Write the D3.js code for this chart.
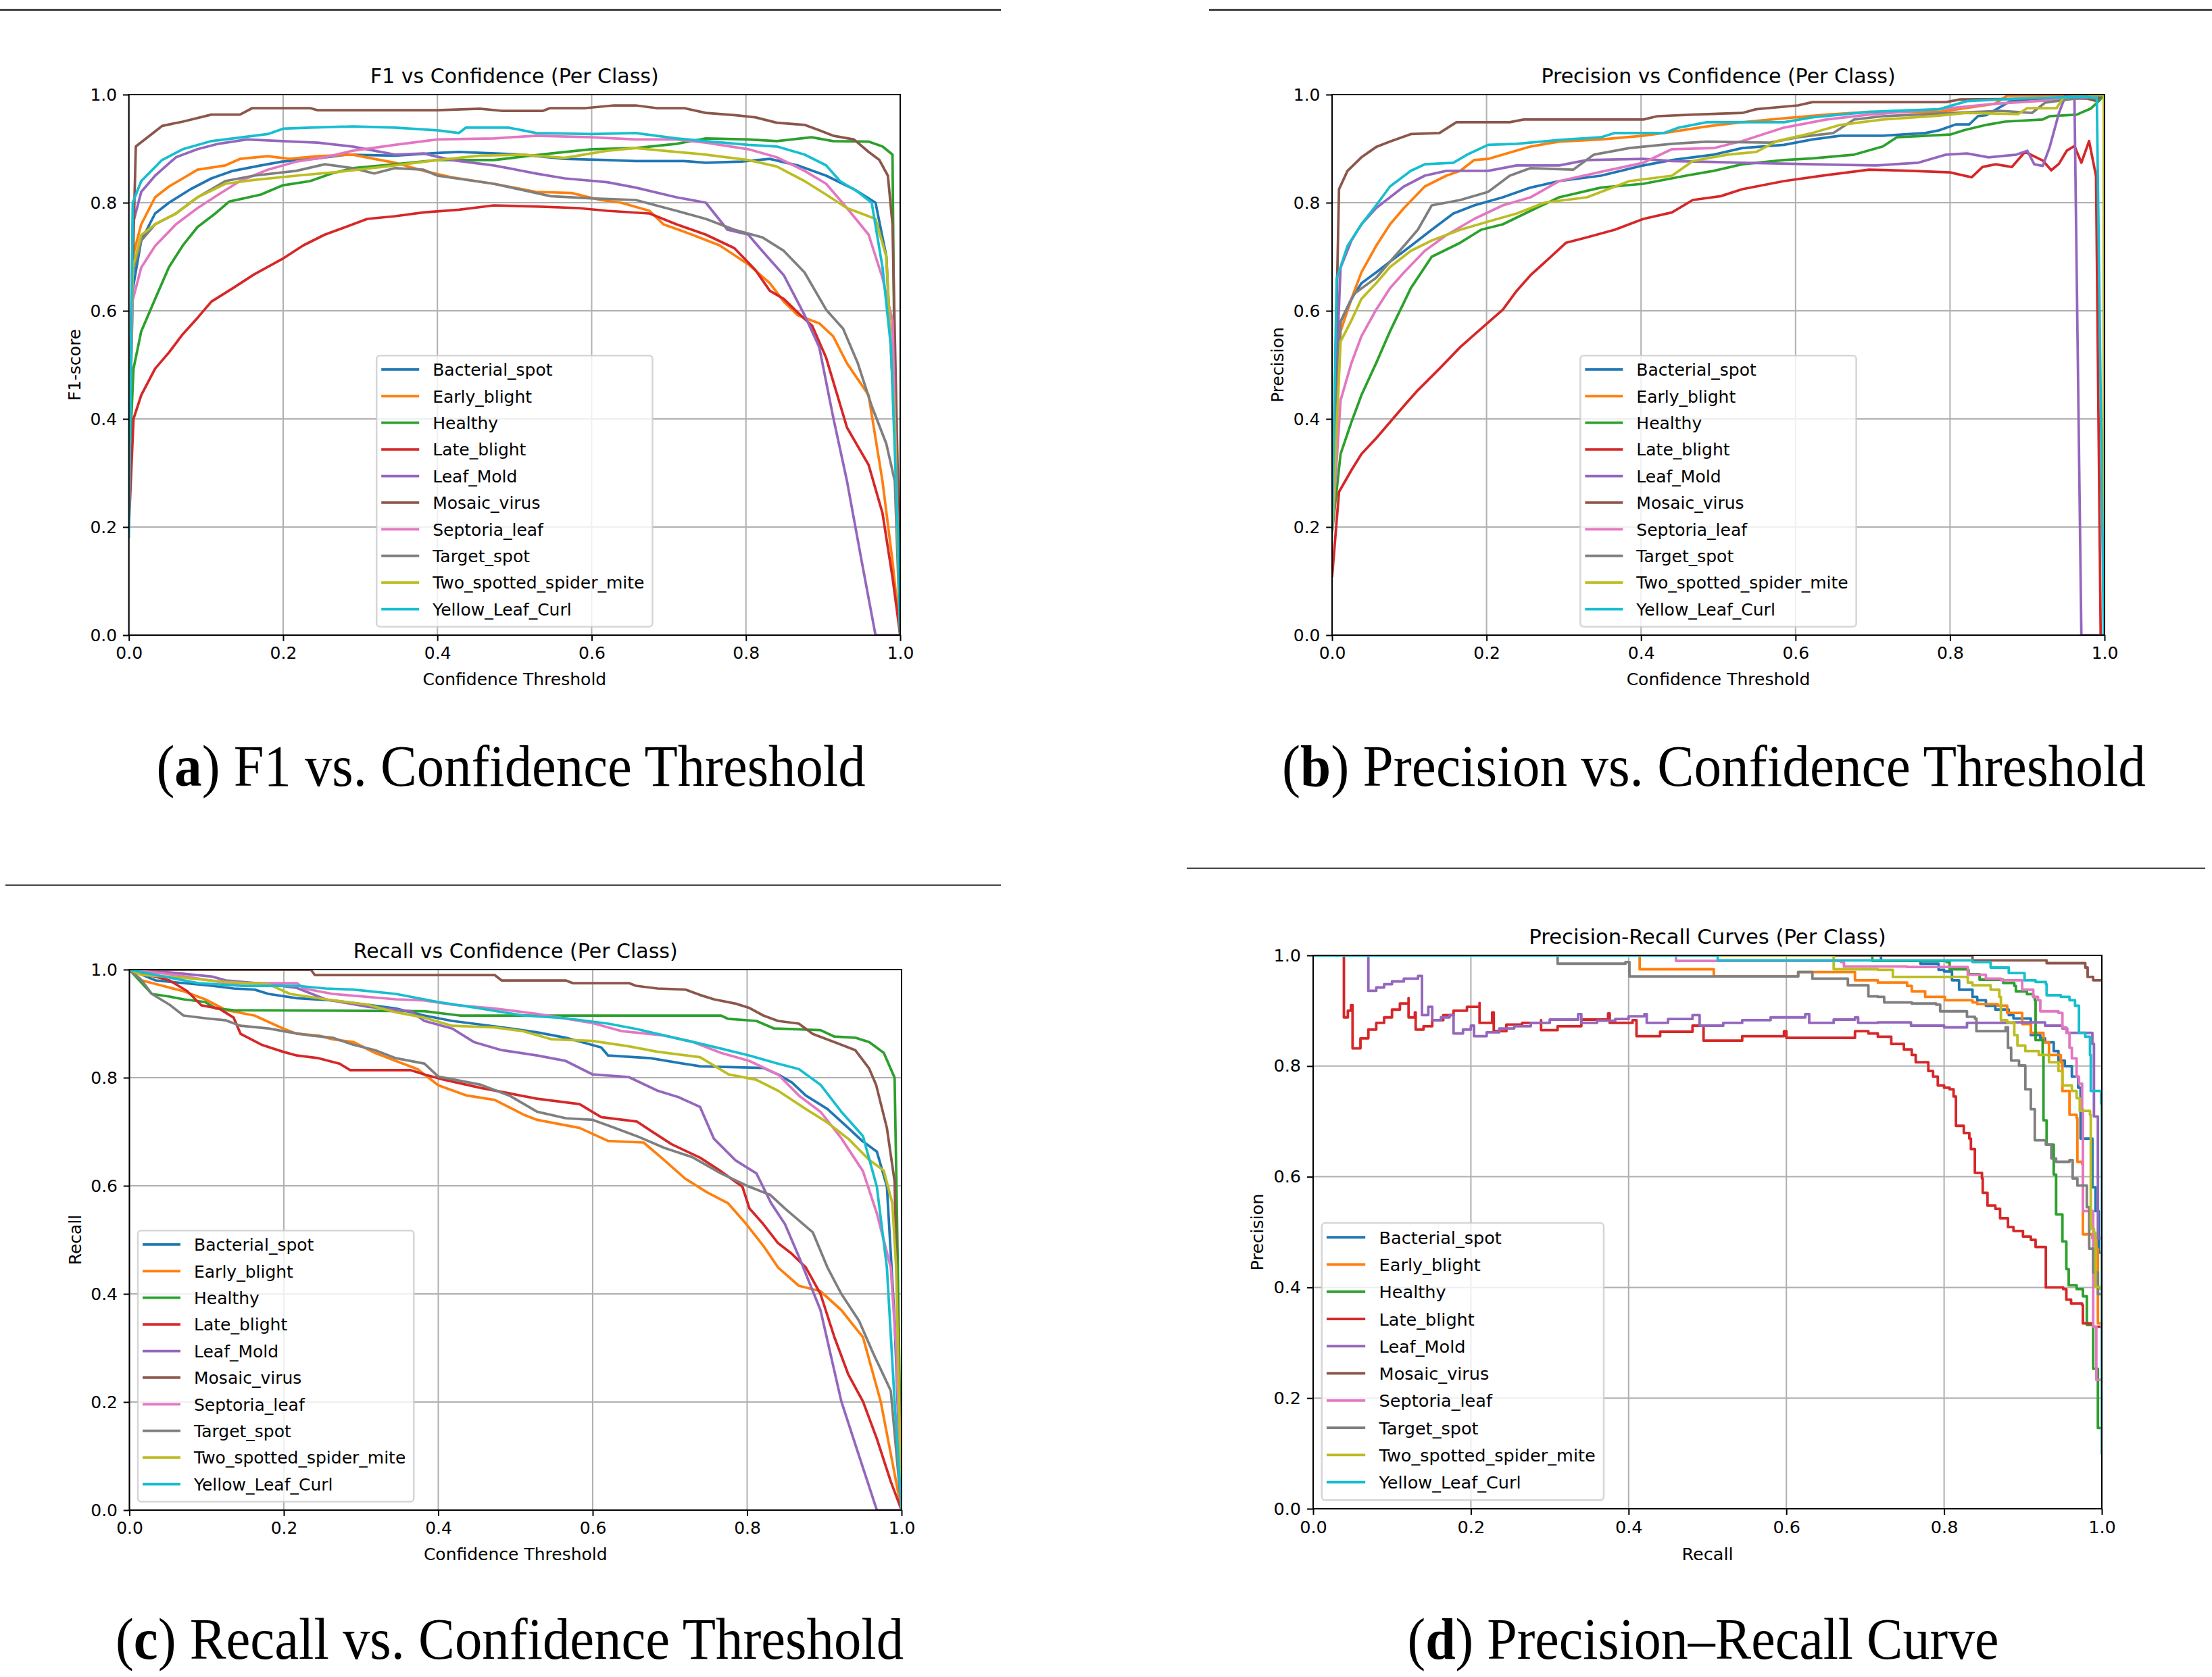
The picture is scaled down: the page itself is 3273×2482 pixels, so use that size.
<!DOCTYPE html>
<html>
<head>
<meta charset="utf-8">
<script src="https://cdn.jsdelivr.net/npm/d3@7"></script>
<style>
  html, body { margin: 0; padding: 0; background: #fff; }
  svg { display: block; }
</style>
</head>
<body>
<div id="chart"></div>
<script>
// class names and the matplotlib tab10 colours used for them
var classNames = ["Bacterial_spot", "Early_blight", "Healthy", "Late_blight", "Leaf_Mold",
  "Mosaic_virus", "Septoria_leaf", "Target_spot", "Two_spotted_spider_mite", "Yellow_Leaf_Curl"];
var classColors = ["#1f77b4", "#ff7f0e", "#2ca02c", "#d62728", "#9467bd",
  "#8c564b", "#e377c2", "#7f7f7f", "#bcbd22", "#17becf"];
var tickValues = [0, 0.2, 0.4, 0.6, 0.8, 1.0];

// (a) F1 vs confidence, one [threshold, f1] list per class
var f1Curves = [
  [[0,.30],[.005,.64],[.016,.73],[.034,.78],[.052,.80],[.08,.825],[.107,.845],[.135,.859],[.171,.869],[.199,.876],[.245,.882],[.281,.889],[.345,.887],[.40,.892],[.428,.894],[.51,.889],[.565,.881],[.62,.879],[.657,.877],[.72,.877],[.748,.874],[.794,.876],[.831,.881],[.867,.869],[.904,.85],[.94,.825],[.968,.80],[.982,.701],[.993,.384],[1,0]],
  [[0,.35],[.005,.70],[.016,.76],[.034,.81],[.052,.83],[.07,.845],[.089,.861],[.125,.869],[.144,.881],[.18,.886],[.208,.881],[.245,.886],[.29,.889],[.318,.881],[.345,.874],[.382,.859],[.418,.847],[.473,.835],[.528,.82],[.574,.818],[.611,.805],[.638,.80],[.675,.785],[.693,.76],[.73,.741],[.766,.721],[.803,.686],[.831,.651],[.849,.617],[.867,.592],[.895,.577],[.913,.553],[.931,.503],[.959,.444],[.977,.285],[.99,.137],[1,0]],
  [[0,.30],[.006,.493],[.016,.562],[.034,.622],[.052,.681],[.07,.721],[.089,.755],[.112,.78],[.13,.802],[.171,.815],[.199,.832],[.235,.84],[.263,.854],[.29,.864],[.345,.871],[.40,.879],[.473,.879],[.547,.891],[.60,.899],[.657,.901],[.71,.909],[.748,.919],[.803,.917],[.84,.914],[.885,.921],[.913,.914],[.959,.913],[.977,.904],[.99,.889],[.992,.58],[.996,.2],[1,0]],
  [[0,.20],[.006,.40],[.016,.444],[.034,.493],[.052,.523],[.07,.557],[.089,.587],[.107,.617],[.135,.642],[.162,.667],[.199,.696],[.226,.721],[.254,.741],[.281,.755],[.309,.77],[.345,.775],[.382,.782],[.428,.787],[.473,.795],[.528,.793],[.583,.79],[.62,.785],[.675,.78],[.71,.76],[.748,.741],[.785,.716],[.812,.676],[.831,.637],[.849,.622],[.867,.597],[.886,.572],[.904,.513],[.931,.384],[.959,.315],[.977,.226],[.99,.107],[1,0]],
  [[0,.35],[.005,.76],[.016,.82],[.034,.85],[.061,.884],[.089,.899],[.116,.909],[.153,.917],[.199,.914],[.245,.911],[.29,.904],[.345,.889],[.382,.891],[.418,.879],[.473,.869],[.528,.854],[.565,.845],[.62,.838],[.657,.828],[.71,.81],[.748,.80],[.776,.75],[.803,.741],[.821,.711],[.849,.666],[.876,.592],[.895,.533],[.913,.404],[.931,.285],[.95,.137],[.968,0],[1,0]],
  [[0,.40],[.009,.904],[.043,.942],[.07,.95],[.107,.963],[.144,.963],[.16,.975],[.235,.975],[.245,.971],[.40,.971],[.455,.974],[.483,.97],[.537,.97],[.546,.975],[.592,.975],[.629,.98],[.657,.98],[.684,.975],[.72,.975],[.748,.966],[.785,.962],[.812,.958],[.84,.948],[.876,.944],[.895,.934],[.913,.924],[.94,.917],[.959,.894],[.973,.879],[.984,.85],[.99,.76],[.997,.285],[1,0]],
  [[0,.32],[.005,.62],[.016,.68],[.034,.72],[.061,.76],[.089,.79],[.116,.815],[.144,.84],[.18,.861],[.217,.876],[.254,.884],[.29,.896],[.345,.907],[.40,.917],[.473,.919],[.528,.924],[.60,.921],[.657,.917],[.71,.917],[.748,.911],[.803,.899],[.84,.884],[.876,.859],[.904,.835],[.931,.79],[.959,.741],[.977,.661],[.99,.582],[1,0]],
  [[0,.30],[.005,.67],[.016,.73],[.034,.76],[.061,.78],[.089,.81],[.125,.84],[.162,.85],[.217,.859],[.254,.871],[.29,.864],[.318,.854],[.345,.864],[.382,.861],[.40,.85],[.473,.835],[.547,.812],[.60,.808],[.657,.805],[.71,.785],[.748,.77],[.785,.75],[.821,.736],[.849,.711],[.876,.671],[.904,.602],[.926,.567],[.945,.503],[.963,.424],[.982,.354],[.993,.285],[1,0]],
  [[0,.33],[.005,.68],[.016,.74],[.034,.76],[.061,.78],[.089,.81],[.125,.835],[.162,.842],[.217,.85],[.272,.857],[.345,.869],[.40,.879],[.455,.887],[.51,.889],[.565,.883],[.62,.896],[.657,.901],[.71,.894],[.748,.889],[.803,.879],[.84,.867],[.876,.84],[.904,.815],[.931,.79],[.968,.77],[.982,.70],[.993,.384],[1,0]],
  [[0,.18],[.005,.80],[.016,.84],[.043,.879],[.07,.899],[.107,.914],[.135,.919],[.18,.927],[.2,.937],[.235,.939],[.29,.941],[.345,.939],[.40,.934],[.428,.929],[.437,.939],[.492,.939],[.528,.929],[.60,.927],[.657,.929],[.71,.919],[.748,.914],[.803,.907],[.84,.904],[.876,.889],[.904,.869],[.922,.84],[.945,.82],[.963,.80],[.977,.681],[.988,.533],[.997,.186],[1,0]]
];

// (b) precision vs confidence
var precisionCurves = [
  [[0,.19],[.011,.58],[.025,.622],[.038,.651],[.057,.671],[.075,.691],[.102,.72],[.129,.75],[.157,.78],[.184,.795],[.221,.81],[.257,.828],[.294,.84],[.348,.85],[.403,.869],[.44,.879],[.494,.889],[.531,.901],[.585,.907],[.622,.917],[.658,.924],[.713,.924],[.768,.929],[.786,.934],[.808,.945],[.825,.945],[.836,.96],[.847,.962],[.877,.987],[.912,.993],[.99,.998],[.999,1],[1,0]],
  [[0,.19],[.011,.562],[.025,.622],[.038,.671],[.057,.72],[.075,.76],[.093,.79],[.12,.83],[.148,.85],[.166,.859],[.184,.879],[.202,.881],[.257,.904],[.294,.913],[.348,.917],[.403,.924],[.44,.931],[.485,.941],[.531,.949],[.585,.956],[.64,.963],[.695,.968],[.786,.968],[.858,.983],[.874,.998],[.999,1],[1,0]],
  [[0,.19],[.011,.335],[.025,.394],[.038,.444],[.057,.503],[.075,.562],[.102,.642],[.129,.70],[.166,.726],[.193,.75],[.221,.76],[.257,.785],[.294,.81],[.348,.828],[.403,.835],[.458,.85],[.494,.859],[.531,.871],[.585,.879],[.622,.882],[.676,.889],[.713,.904],[.731,.921],[.80,.926],[.818,.934],[.847,.944],[.871,.95],[.92,.954],[.929,.96],[.964,.963],[.982,.974],[.994,.99],[.999,1],[1,0]],
  [[0,.107],[.009,.265],[.025,.305],[.038,.335],[.057,.364],[.075,.394],[.093,.424],[.111,.453],[.139,.493],[.166,.533],[.193,.567],[.221,.602],[.239,.637],[.257,.666],[.284,.701],[.303,.726],[.33,.736],[.366,.75],[.403,.77],[.44,.782],[.467,.805],[.503,.812],[.531,.825],[.585,.84],[.64,.851],[.695,.861],[.75,.859],[.80,.856],[.828,.847],[.842,.866],[.859,.871],[.88,.866],[.897,.894],[.92,.878],[.931,.86],[.941,.872],[.951,.896],[.961,.905],[.97,.874],[.98,.914],[.989,.849],[.995,0],[1,0]],
  [[0,.29],[.011,.68],[.025,.73],[.038,.76],[.057,.79],[.075,.81],[.093,.83],[.12,.85],[.148,.859],[.202,.859],[.239,.869],[.294,.869],[.33,.879],[.403,.881],[.44,.877],[.531,.874],[.622,.871],[.704,.869],[.759,.874],[.795,.889],[.822,.891],[.85,.884],[.886,.889],[.90,.896],[.909,.871],[.92,.868],[.929,.903],[.941,.966],[.95,1],[.961,1],[.97,0],[1,0]],
  [[0,.19],[.009,.825],[.02,.859],[.038,.884],[.057,.903],[.075,.913],[.102,.927],[.139,.929],[.161,.949],[.23,.949],[.248,.954],[.403,.954],[.421,.96],[.467,.963],[.531,.966],[.549,.973],[.603,.98],[.622,.986],[.795,.986],[.813,.991],[.977,.993],[.99,.988],[.995,1],[.999,1],[1,0]],
  [[0,.19],[.011,.434],[.025,.503],[.038,.553],[.057,.602],[.075,.642],[.093,.671],[.12,.711],[.148,.74],[.184,.77],[.221,.795],[.257,.81],[.294,.84],[.348,.857],[.403,.874],[.44,.899],[.494,.901],[.531,.914],[.585,.939],[.64,.954],[.695,.963],[.786,.973],[.858,.983],[.968,.993],[.999,1],[1,0]],
  [[0,.19],[.011,.58],[.029,.632],[.057,.661],[.075,.691],[.093,.72],[.111,.75],[.129,.795],[.166,.805],[.202,.82],[.23,.85],[.257,.864],[.312,.861],[.339,.889],[.385,.901],[.44,.909],[.485,.913],[.567,.911],[.603,.921],[.649,.929],[.676,.954],[.713,.96],[.804,.966],[.865,.97],[.906,.966],[.923,.985],[.999,1],[1,0]],
  [[0,.19],[.011,.543],[.025,.582],[.038,.622],[.057,.651],[.075,.681],[.102,.711],[.129,.73],[.166,.75],[.202,.765],[.239,.78],[.275,.80],[.33,.81],[.385,.84],[.44,.85],[.467,.877],[.512,.889],[.549,.894],[.576,.914],[.622,.929],[.658,.944],[.713,.954],[.786,.961],[.821,.966],[.888,.964],[.90,.975],[.938,.975],[.947,.995],[.999,1],[1,0]],
  [[0,.19],[.006,.66],[.02,.72],[.038,.76],[.057,.795],[.075,.83],[.102,.859],[.12,.871],[.157,.874],[.175,.889],[.202,.907],[.239,.909],[.294,.916],[.348,.921],[.366,.929],[.43,.929],[.449,.939],[.485,.949],[.585,.949],[.622,.958],[.695,.968],[.786,.973],[.822,.988],[.895,.993],[.977,.996],[.99,.993],[.999,0],[1,0]]
];

// (c) recall vs confidence
var recallCurves = [
  [[0,1],[.034,.98],[.07,.975],[.107,.97],[.135,.965],[.162,.963],[.18,.955],[.217,.947],[.263,.943],[.309,.935],[.345,.928],[.382,.915],[.418,.905],[.473,.895],[.528,.884],[.565,.874],[.611,.856],[.62,.841],[.675,.836],[.739,.821],[.821,.818],[.84,.806],[.858,.791],[.876,.767],[.904,.742],[.931,.707],[.949,.683],[.968,.663],[.981,.599],[.991,.351],[1,0]],
  [[0,1],[.016,.98],[.043,.97],[.07,.96],[.098,.945],[.125,.925],[.162,.915],[.199,.891],[.217,.881],[.245,.878],[.263,.871],[.29,.866],[.318,.846],[.345,.831],[.373,.816],[.40,.786],[.437,.767],[.473,.759],[.51,.732],[.528,.722],[.583,.707],[.62,.683],[.666,.68],[.693,.647],[.72,.613],[.748,.588],[.775,.568],[.799,.529],[.821,.489],[.84,.449],[.867,.415],[.895,.405],[.922,.37],[.95,.32],[.973,.201],[1,0]],
  [[0,1],[.016,.975],[.029,.955],[.052,.95],[.07,.945],[.098,.94],[.112,.928],[.135,.925],[.382,.923],[.428,.915],[.766,.915],[.775,.909],[.812,.905],[.835,.891],[.895,.888],[.913,.876],[.94,.874],[.958,.866],[.977,.846],[.991,.80],[.994,.549],[1,0]],
  [[0,1],[.025,.99],[.052,.98],[.075,.96],[.093,.934],[.116,.928],[.135,.911],[.144,.881],[.171,.861],[.199,.848],[.217,.841],[.245,.836],[.272,.826],[.286,.814],[.364,.814],[.382,.806],[.408,.796],[.455,.781],[.492,.771],[.528,.761],[.583,.751],[.611,.727],[.657,.719],[.675,.702],[.702,.677],[.739,.652],[.766,.627],[.794,.598],[.803,.558],[.821,.529],[.84,.494],[.858,.474],[.876,.449],[.895,.40],[.913,.32],[.931,.251],[.95,.201],[.968,.132],[.986,.053],[1,0]],
  [[0,1],[.052,.995],[.107,.987],[.125,.98],[.18,.973],[.217,.966],[.254,.945],[.309,.931],[.364,.923],[.382,.905],[.418,.891],[.446,.866],[.482,.851],[.528,.841],[.565,.831],[.60,.806],[.647,.801],[.684,.776],[.711,.764],[.739,.746],[.757,.687],[.785,.647],[.812,.623],[.831,.568],[.849,.529],[.867,.469],[.895,.37],[.922,.201],[.94,.122],[.968,0],[1,0]],
  [[0,1],[.235,1],[.24,.99],[.473,.99],[.482,.98],[.565,.98],[.574,.975],[.647,.975],[.656,.97],[.684,.965],[.72,.963],[.739,.953],[.757,.945],[.785,.937],[.803,.929],[.821,.915],[.84,.905],[.867,.9],[.885,.881],[.922,.861],[.94,.851],[.958,.817],[.967,.787],[.981,.707],[.991,.608],[.995,.35],[1,0]],
  [[0,1],[.061,.99],[.125,.975],[.217,.975],[.226,.965],[.263,.955],[.345,.945],[.382,.943],[.418,.935],[.473,.928],[.528,.918],[.60,.901],[.638,.886],[.693,.878],[.73,.866],[.766,.846],[.803,.831],[.84,.806],[.867,.767],[.895,.737],[.922,.688],[.95,.627],[.968,.549],[.986,.449],[.993,.30],[1,0]],
  [[0,1],[.016,.98],[.029,.955],[.052,.935],[.07,.915],[.098,.91],[.125,.906],[.144,.896],[.18,.891],[.208,.884],[.235,.878],[.263,.874],[.29,.861],[.318,.851],[.345,.836],[.382,.826],[.40,.802],[.455,.787],[.492,.767],[.528,.737],[.565,.725],[.60,.722],[.629,.707],[.657,.692],[.693,.67],[.729,.653],[.766,.623],[.803,.598],[.83,.583],[.849,.558],[.885,.514],[.904,.449],[.922,.40],[.945,.35],[.963,.291],[.986,.221],[1,0]],
  [[0,1],[.016,.99],[.07,.985],[.125,.977],[.18,.973],[.208,.955],[.254,.945],[.309,.935],[.345,.921],[.382,.911],[.418,.896],[.473,.893],[.51,.886],[.547,.871],[.60,.868],[.647,.858],[.684,.848],[.739,.838],[.776,.806],[.812,.796],[.84,.776],[.876,.742],[.904,.717],[.931,.687],[.958,.648],[.977,.628],[.988,.568],[.993,.449],[1,0]],
  [[0,1],[.034,.99],[.089,.975],[.144,.97],[.217,.97],[.254,.965],[.29,.963],[.345,.955],[.40,.94],[.455,.928],[.51,.915],[.565,.91],[.62,.9],[.657,.89],[.693,.878],[.73,.866],[.766,.854],[.803,.841],[.84,.826],[.867,.816],[.895,.787],[.922,.737],[.95,.692],[.968,.598],[.981,.449],[.991,.201],[1,0]]
];

// (d) precision-recall, [recall, precision] steps (value holds until next recall)
var prCurves = [
  [[0,1],[.72,1],[.72,.99],[.77,.985],[.793,.974],[.80,.971],[.81,.955],[.819,.938],[.836,.925],[.842,.919],[.853,.909],[.865,.902],[.882,.892],[.888,.886],[.91,.856],[.922,.85],[.928,.843],[.939,.827],[.945,.81],[.953,.80],[.962,.781],[.97,.761],[.973,.669],[.988,.581],[.992,.538],[.996,.463],[1,.463]],
  [[0,1],[.414,1],[.414,.975],[.508,.962],[.615,.97],[.687,.955],[.716,.951],[.753,.945],[.759,.935],[.776,.925],[.801,.919],[.836,.915],[.842,.912],[.868,.909],[.88,.896],[.899,.876],[.91,.86],[.926,.843],[.933,.82],[.948,.807],[.95,.755],[.959,.712],[.968,.706],[.969,.627],[.975,.623],[.976,.496],[.988,.489],[.993,.47],[.995,.335],[1,.273]],
  [[0,1],[.709,1],[.709,.99],[.803,.988],[.807,.975],[.829,.974],[.831,.966],[.845,.956],[.875,.95],[.889,.945],[.891,.935],[.905,.93],[.913,.925],[.915,.919],[.916,.847],[.925,.82],[.926,.702],[.93,.658],[.939,.604],[.942,.532],[.95,.483],[.955,.433],[.958,.404],[.968,.397],[.976,.384],[.981,.332],[.989,.253],[.995,.146],[1,.137]],
  [[.039,1],[.039,.888],[.044,.90],[.048,.91],[.05,.832],[.06,.85],[.07,.866],[.08,.878],[.09,.888],[.1,.902],[.11,.913],[.121,.923],[.121,.888],[.129,.897],[.13,.866],[.14,.872],[.151,.883],[.165,.892],[.178,.9],[.195,.907],[.211,.914],[.211,.878],[.227,.897],[.229,.863],[.245,.875],[.265,.878],[.289,.883],[.289,.865],[.31,.872],[.34,.884],[.374,.895],[.376,.878],[.405,.883],[.41,.854],[.44,.862],[.481,.873],[.495,.846],[.544,.854],[.597,.863],[.6,.851],[.687,.863],[.704,.859],[.716,.853],[.733,.84],[.749,.83],[.759,.82],[.764,.807],[.78,.791],[.786,.781],[.792,.765],[.80,.761],[.807,.758],[.812,.745],[.815,.692],[.825,.679],[.832,.669],[.834,.65],[.839,.607],[.848,.597],[.849,.571],[.855,.548],[.865,.542],[.871,.525],[.881,.509],[.888,.502],[.90,.492],[.91,.486],[.916,.473],[.929,.40],[.951,.397],[.955,.378],[.961,.371],[.975,.368],[.976,.335],[.989,.329],[1,.273]],
  [[.07,1],[.07,.936],[.08,.942],[.09,.948],[.1,.953],[.115,.958],[.133,.963],[.138,.892],[.146,.907],[.151,.883],[.162,.888],[.173,.892],[.178,.859],[.19,.866],[.2,.873],[.204,.854],[.22,.861],[.236,.868],[.255,.872],[.276,.878],[.3,.884],[.336,.894],[.34,.878],[.36,.882],[.383,.885],[.4,.89],[.42,.894],[.423,.878],[.45,.885],[.481,.892],[.49,.873],[.52,.878],[.544,.883],[.58,.888],[.624,.894],[.629,.878],[.66,.884],[.687,.888],[.691,.878],[.716,.879],[.758,.873],[.80,.87],[.829,.878],[.888,.879],[.922,.879],[.928,.873],[.95,.868],[.956,.86],[.979,.86],[.988,.84],[.99,.709],[.995,.489],[.999,.489],[1,.28]],
  [[0,1],[.836,1],[.836,.991],[.929,.991],[.93,.986],[.975,.986],[.979,.978],[.982,.961],[.989,.955],[1,.955]],
  [[0,1],[.46,1],[.46,.99],[.669,.988],[.673,.98],[.753,.979],[.83,.965],[.853,.958],[.872,.955],[.899,.938],[.913,.925],[.919,.919],[.922,.899],[.945,.896],[.95,.87],[.955,.86],[.959,.833],[.962,.814],[.968,.781],[.971,.768],[.975,.722],[.976,.538],[.989,.329],[.993,.233],[1,.233]],
  [[0,1],[.31,1],[.31,.985],[.396,.988],[.401,.962],[.615,.97],[.633,.958],[.678,.946],[.704,.926],[.716,.925],[.724,.915],[.759,.913],[.79,.911],[.795,.899],[.829,.889],[.839,.886],[.841,.863],[.878,.87],[.881,.833],[.885,.81],[.895,.801],[.903,.758],[.91,.722],[.915,.666],[.929,.658],[.936,.633],[.942,.627],[.959,.63],[.963,.597],[.969,.584],[.981,.545],[.984,.47],[.989,.427],[.995,.388],[1,.388],[1,.098]],
  [[0,1],[.66,1],[.66,.975],[.716,.974],[.735,.961],[.83,.951],[.836,.946],[.859,.938],[.87,.925],[.872,.883],[.88,.879],[.889,.856],[.893,.837],[.903,.827],[.92,.82],[.933,.807],[.945,.791],[.95,.765],[.962,.755],[.968,.742],[.972,.719],[.985,.712],[.986,.506],[.99,.499],[.992,.401],[.998,.397],[1,.389]],
  [[0,1],[.513,1],[.513,.991],[.816,.991],[.836,.988],[.859,.978],[.882,.968],[.902,.955],[.916,.952],[.929,.948],[.93,.928],[.948,.925],[.959,.919],[.966,.909],[.971,.86],[.979,.853],[.985,.82],[.986,.755],[.999,.732],[1,.1]]
];

var W = 3273, H = 2482;
var sansFont = "'DejaVu Sans', sans-serif";
var serifFont = "'Liberation Serif', 'DejaVu Serif', serif";

var svg = d3.select("#chart").append("svg")
    .attr("width", W)
    .attr("height", H)
    .attr("viewBox", "0 0 " + W + " " + H);

svg.append("rect").attr("width", W).attr("height", H).attr("fill", "#fff");

// horizontal rules that sit above the subfigures
var rules = [
  {x1: 0, x2: 1481, y: 14.5, w: 3},
  {x1: 1789, x2: 3273, y: 14.5, w: 3},
  {x1: 8, x2: 1481, y: 1310, w: 2},
  {x1: 1756, x2: 3263, y: 1285, w: 2}
];
svg.selectAll(".rule").data(rules).join("line")
    .attr("class", "rule")
    .attr("x1", function(d){ return d.x1; })
    .attr("x2", function(d){ return d.x2; })
    .attr("y1", function(d){ return d.y; })
    .attr("y2", function(d){ return d.y; })
    .attr("stroke", "#444")
    .attr("stroke-width", function(d){ return d.w; });

var panels = [
  {id: "a", left: 190.7, right: 1332, top: 140, bottom: 940, k: 1,
   title: "F1 vs Confidence (Per Class)", xlabel: "Confidence Threshold", ylabel: "F1-score",
   curves: f1Curves, step: false, legend: "center",
   caption: ["a", " F1 vs. Confidence Threshold"], capX: 756, capY: 1163, capW: 1049},
  {id: "b", left: 1971, right: 3114, top: 140, bottom: 940, k: 1,
   title: "Precision vs Confidence (Per Class)", xlabel: "Confidence Threshold", ylabel: "Precision",
   curves: precisionCurves, step: false, legend: "center",
   caption: ["b", " Precision vs. Confidence Threshold"], capX: 2536, capY: 1163, capW: 1278},
  {id: "c", left: 191.5, right: 1334, top: 1435, bottom: 2235, k: 1,
   title: "Recall vs Confidence (Per Class)", xlabel: "Confidence Threshold", ylabel: "Recall",
   curves: recallCurves, step: false, legend: "left",
   caption: ["c", " Recall vs. Confidence Threshold"], capX: 754, capY: 2455, capW: 1166},
  {id: "d", left: 1943, right: 3110, top: 1414, bottom: 2233, k: 1.022,
   title: "Precision-Recall Curves (Per Class)", xlabel: "Recall", ylabel: "Precision",
   curves: prCurves, step: true, legend: "left",
   caption: ["d", " Precision\u2013Recall Curve"], capX: 2520, capY: 2455, capW: 875}
];

panels.forEach(drawPanel);

function drawPanel(p){
  var k = p.k;
  var g = svg.append("g").attr("class", "panel-" + p.id);

  var x = d3.scaleLinear().domain([0, 1]).range([p.left, p.right]);
  var y = d3.scaleLinear().domain([0, 1]).range([p.bottom, p.top]);

  // grid
  g.append("g").selectAll("line").data(tickValues).join("line")
      .attr("x1", function(d){ return x(d); })
      .attr("x2", function(d){ return x(d); })
      .attr("y1", p.top).attr("y2", p.bottom)
      .attr("stroke", "#b0b0b0").attr("stroke-width", 2 * k);
  g.append("g").selectAll("line").data(tickValues).join("line")
      .attr("y1", function(d){ return y(d); })
      .attr("y2", function(d){ return y(d); })
      .attr("x1", p.left).attr("x2", p.right)
      .attr("stroke", "#b0b0b0").attr("stroke-width", 2 * k);

  // curves, clipped to the axes box
  var clipId = "clip-" + p.id;
  svg.append("defs").append("clipPath").attr("id", clipId)
    .append("rect")
      .attr("x", p.left).attr("y", p.top)
      .attr("width", p.right - p.left).attr("height", p.bottom - p.top);

  var line = d3.line()
      .x(function(d){ return x(d[0]); })
      .y(function(d){ return y(d[1]); })
      .curve(p.step ? d3.curveStepAfter : d3.curveLinear);

  g.append("g").attr("clip-path", "url(#" + clipId + ")")
    .selectAll("path").data(p.curves).join("path")
      .attr("d", line)
      .attr("fill", "none")
      .attr("stroke", function(d, i){ return classColors[i]; })
      .attr("stroke-width", 3.75 * k)
      .attr("stroke-linejoin", "round");

  // axes
  var fmt = d3.format(".1f");
  var xAxis = g.append("g")
      .attr("transform", "translate(0," + p.bottom + ")")
      .call(d3.axisBottom(x).tickValues(tickValues).tickFormat(fmt)
        .tickSize(8.75 * k).tickPadding(8.75 * k));
  var yAxis = g.append("g")
      .attr("transform", "translate(" + p.left + ",0)")
      .call(d3.axisLeft(y).tickValues(tickValues).tickFormat(fmt)
        .tickSize(8.75 * k).tickPadding(8.75 * k));
  [xAxis, yAxis].forEach(function(a){
    a.select(".domain").remove();
    a.selectAll(".tick line").attr("stroke", "#000").attr("stroke-width", 2 * k);
    a.selectAll(".tick text")
        .attr("fill", "#000")
        .style("font-family", sansFont)
        .style("font-size", (25 * k) + "px");
  });

  // spines
  g.append("rect")
      .attr("x", p.left).attr("y", p.top)
      .attr("width", p.right - p.left).attr("height", p.bottom - p.top)
      .attr("fill", "none").attr("stroke", "#000").attr("stroke-width", 2 * k);

  // title and axis labels
  var cx = (p.left + p.right) / 2;
  g.append("text")
      .attr("x", cx).attr("y", p.top - 17 * k)
      .attr("text-anchor", "middle")
      .style("font-family", sansFont).style("font-size", (30 * k) + "px")
      .text(p.title);
  g.append("text")
      .attr("x", cx).attr("y", p.bottom + 74 * k)
      .attr("text-anchor", "middle")
      .style("font-family", sansFont).style("font-size", (25 * k) + "px")
      .text(p.xlabel);
  var ylx = p.left - 72 * k, yly = (p.top + p.bottom) / 2;
  g.append("text")
      .attr("x", ylx).attr("y", yly)
      .attr("transform", "rotate(-90," + ylx + "," + yly + ")")
      .attr("text-anchor", "middle")
      .style("font-family", sansFont).style("font-size", (25 * k) + "px")
      .text(p.ylabel);

  drawLegend(g, p, k);

  // caption under the subfigure
  var cap = svg.append("text")
      .attr("x", p.capX).attr("y", p.capY)
      .attr("text-anchor", "middle")
      .attr("textLength", p.capW)
      .attr("lengthAdjust", "spacingAndGlyphs")
      .style("font-family", serifFont).style("font-size", "86px")
      .attr("fill", "#000");
  cap.append("tspan").text("(");
  cap.append("tspan").style("font-weight", "bold").text(p.caption[0]);
  cap.append("tspan").text(")" + p.caption[1]);
}

function drawLegend(g, p, k){
  var fs = 25 * k;
  var lg = g.append("g");

  var texts = lg.selectAll("text").data(classNames).join("text")
      .style("font-family", sansFont).style("font-size", fs + "px")
      .text(function(d){ return d; });
  var maxW = 0;
  texts.each(function(){ maxW = Math.max(maxW, this.getComputedTextLength()); });

  var w = 83 * k + maxW + 12 * k;
  var first = 20.7 * k, step = 39.4 * k;
  var h = first + step * (classNames.length - 1) + 26 * k;
  var left = p.legend === "center" ? (p.left + p.right) / 2 - w / 2 : p.left + 12.5 * k;
  var top = p.bottom - 12.5 * k - h;

  lg.insert("rect", "text")
      .attr("x", left).attr("y", top)
      .attr("width", w).attr("height", h)
      .attr("rx", 5 * k).attr("ry", 5 * k)
      .attr("fill", "#fff").attr("fill-opacity", 0.8)
      .attr("stroke", "#cccccc").attr("stroke-opacity", 0.8)
      .attr("stroke-width", 2.5 * k);

  lg.selectAll("line").data(classNames).join("line")
      .attr("x1", left + 7 * k).attr("x2", left + 63 * k)
      .attr("y1", function(d, i){ return top + first + i * step; })
      .attr("y2", function(d, i){ return top + first + i * step; })
      .attr("stroke", function(d, i){ return classColors[i]; })
      .attr("stroke-width", 3.75 * k);

  texts
      .attr("x", left + 83 * k)
      .attr("y", function(d, i){ return top + first + i * step; })
      .attr("dy", "0.37em");
  texts.raise();
}
</script>
</body>
</html>
